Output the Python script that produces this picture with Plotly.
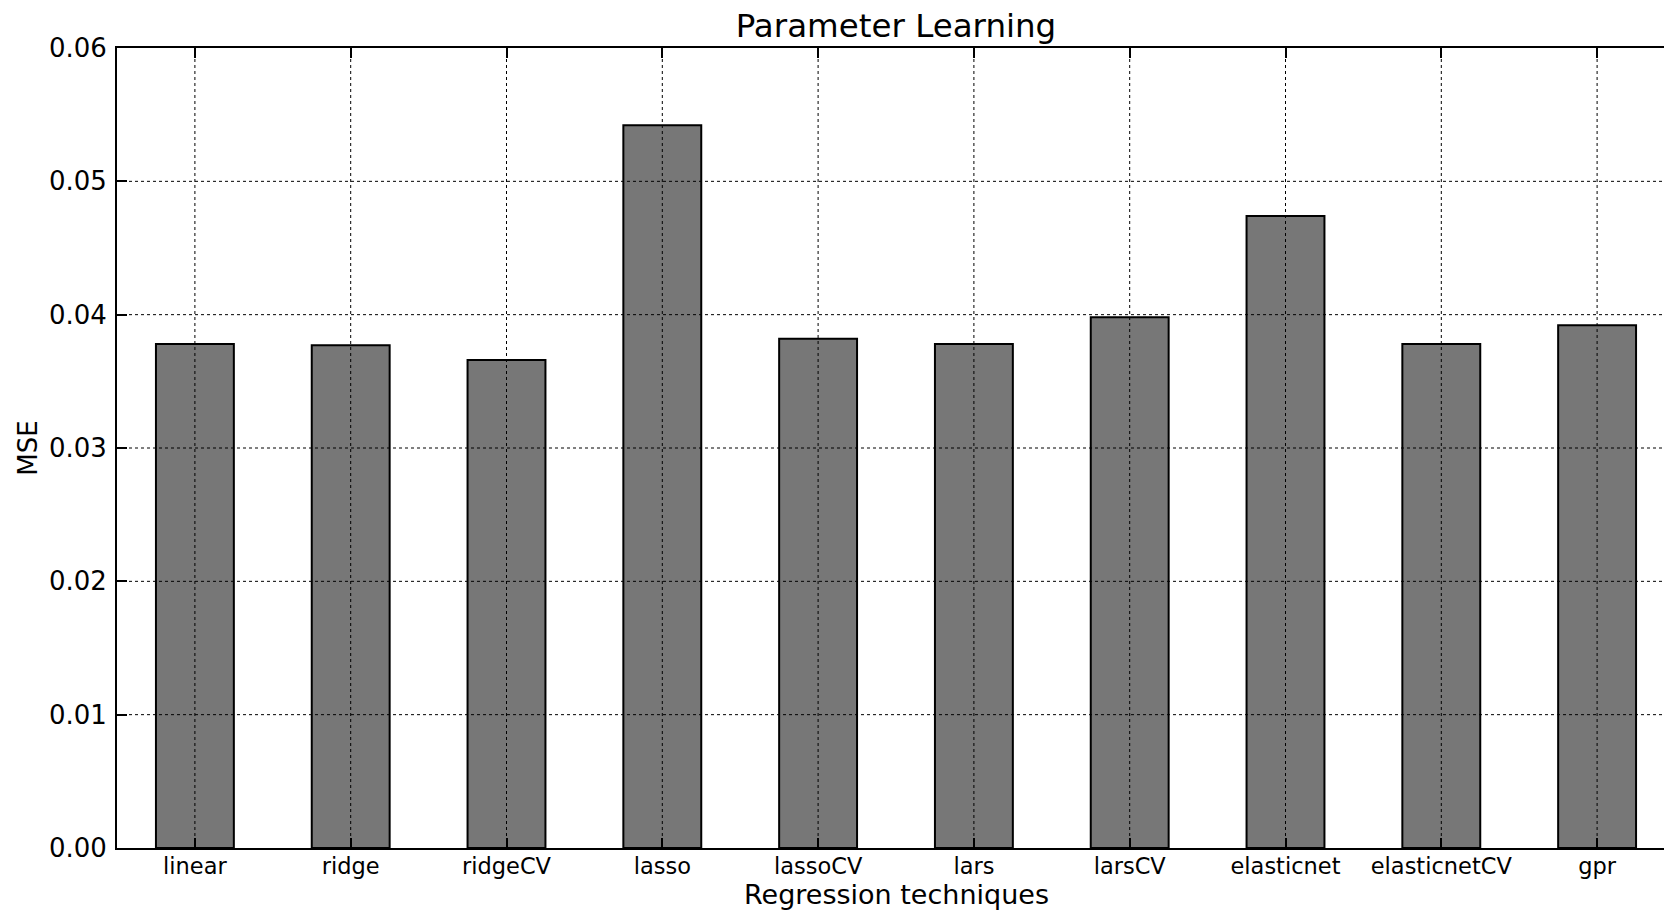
import plotly.graph_objects as go

categories = ["linear", "ridge", "ridgeCV", "lasso", "lassoCV", "lars",
              "larsCV", "elasticnet", "elasticnetCV", "gpr"]
mse = [0.0378, 0.0377, 0.0366, 0.0542, 0.0382, 0.0378, 0.0398, 0.0474, 0.0378, 0.0392]
y_ticks = [0.00, 0.01, 0.02, 0.03, 0.04, 0.05, 0.06]

font = "DejaVu Sans"
x_idx = list(range(len(categories)))

fig = go.Figure()
fig.add_trace(go.Bar(
    x=x_idx, y=mse, width=0.5,
    marker=dict(color="#777777", line=dict(color="black", width=2)),
    showlegend=False, hoverinfo="x+y",
))

# dotted grid drawn above the bars (as in the reference)
shapes = []
for i in x_idx:
    shapes.append(dict(type="line", xref="x", yref="paper", x0=i, x1=i, y0=0, y1=1,
                       line=dict(color="black", width=1, dash="dot"), layer="above"))
for v in y_ticks[1:-1]:
    shapes.append(dict(type="line", xref="paper", yref="y", x0=0, x1=1, y0=v, y1=v,
                       line=dict(color="black", width=1, dash="dot"), layer="above"))

W, H = 1656, 904
L = 109
center_px = L + 1558 / 2          # centre of the (partly off-page) axes box
fig.update_layout(
    width=W, height=H,
    margin=dict(l=L, r=0, t=40, b=63.5),
    paper_bgcolor="white", plot_bgcolor="white",
    font=dict(family=font, color="black"),
    title=dict(text="Parameter Learning", x=center_px / W, xref="container",
               xanchor="center",
               y=1 - 17.5 / H, yanchor="middle", yref="container",
               font=dict(size=32.5, family=font, color="black")),
    shapes=shapes,
    bargap=0.5,
    annotations=[dict(text="Regression techniques", xref="paper", yref="paper",
                      x=(center_px - L) / (W - L), y=0, xanchor="center",
                      yanchor="middle", yshift=-46.5, showarrow=False,
                      font=dict(size=27, family=font, color="black"))],
)
fig.update_xaxes(
    range=[-0.5, -0.5 + (W - L) / 155.8],
    tickmode="array", tickvals=x_idx, ticktext=categories,
    tickfont=dict(size=22.5, family=font, color="black"),
    ticks="inside", ticklen=10, tickwidth=1.5, tickcolor="black",
    showline=True, linecolor="black", linewidth=2, mirror="ticks",
    showgrid=False, zeroline=False, automargin=False,
    ticklabelstandoff=-3,
)
fig.update_yaxes(
    range=[0, 0.06],
    tickmode="array", tickvals=y_ticks, ticktext=[f"{v:.2f}" for v in y_ticks],
    tickfont=dict(size=26, family=font, color="black"),
    ticks="inside", ticklen=10, tickwidth=1.5, tickcolor="black",
    showline=True, linecolor="black", linewidth=2,
    showgrid=False, zeroline=False,
    ticklabelstandoff=3,
    title=dict(text="MSE", font=dict(size=26, family=font, color="black"), standoff=4),
)

fig.write_html("out.html")
